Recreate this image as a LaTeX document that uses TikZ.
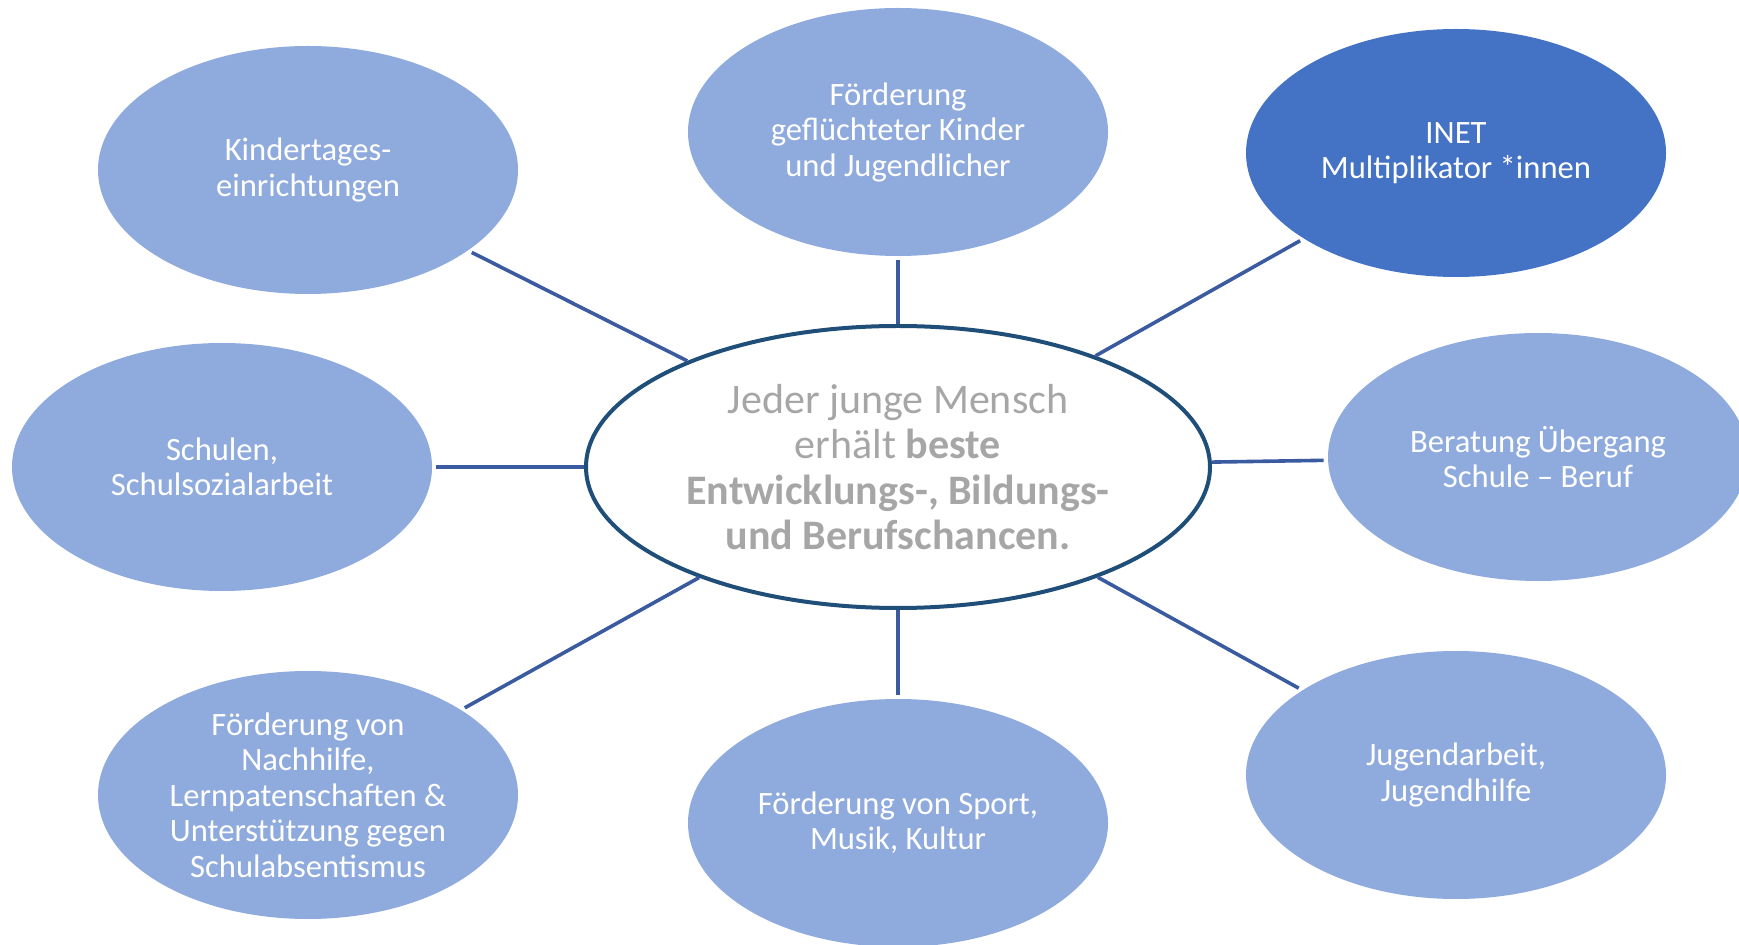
\documentclass[tikz,border=0pt]{standalone}
\usepackage{fontspec}
\setmainfont{Carlito}
\usetikzlibrary{shapes.geometric}

\definecolor{feld}{HTML}{8FAADC}
\definecolor{inet}{HTML}{4472C4}
\definecolor{linie}{HTML}{3A5BA0}
\definecolor{rand}{HTML}{1F4E79}
\definecolor{grau}{HTML}{A6A6A6}

\begin{document}
\begin{tikzpicture}[x=0.5pt,y=-0.5pt]

        \useasboundingbox (0,0) rectangle (1739,945);

        \begin{scope}[every node/.style={ellipse,fill=feld,text=white,inner sep=0pt,
            minimum width=210pt,minimum height=124pt,align=center,
            font=\fontsize{16.3}{17.75}\selectfont}]
          \node (kita)    at (308,170)  {Kindertages-\\einrichtungen};
          \node (flucht)  at (898,132)  {Förderung\\geflüchteter Kinder\\und Jugendlicher};
          \node[fill=inet] (inet) at (1456,153) {INET\\Multiplikator *innen};
          \node (schule)  at (222,467)  {Schulen,\\Schulsozialarbeit};
          \node (beruf)   at (1538,457) {Beratung Übergang\\Schule -- Beruf};
          \node (hilfe)   at (308,795)  {Förderung von\\Nachhilfe,\\Lernpatenschaften \&\\Unterstützung gegen\\Schulabsentismus};
          \node (sport)   at (898,823)  {Förderung von Sport,\\Musik, Kultur};
          \node (jugend)  at (1456,775) {Jugendarbeit,\\Jugendhilfe};
        \end{scope}

        \node[ellipse,draw=rand,line width=2pt,fill=white,text=grau,inner sep=0pt,
          minimum width=312pt,minimum height=141pt,align=center,
          font=\fontsize{21}{22.7}\selectfont] (mitte) at (898,467)
          {Jeder junge Mensch\\erhält \textbf{beste}\\\textbf{Entwicklungs-, Bildungs-}\\\textbf{und Berufschancen.}};

        \begin{scope}[every edge/.style={draw=linie,line width=1.8pt,shorten >=2pt}]
          \path (mitte) edge (kita);
          \path (mitte) edge (flucht);
          \path (mitte) edge (inet);
          \path (mitte) edge (schule);
          \path (mitte) edge (beruf);
          \path (mitte) edge (hilfe);
          \path (mitte) edge (sport);
          \path (mitte) edge (jugend);
        \end{scope}

      \end{tikzpicture}
\end{document}
